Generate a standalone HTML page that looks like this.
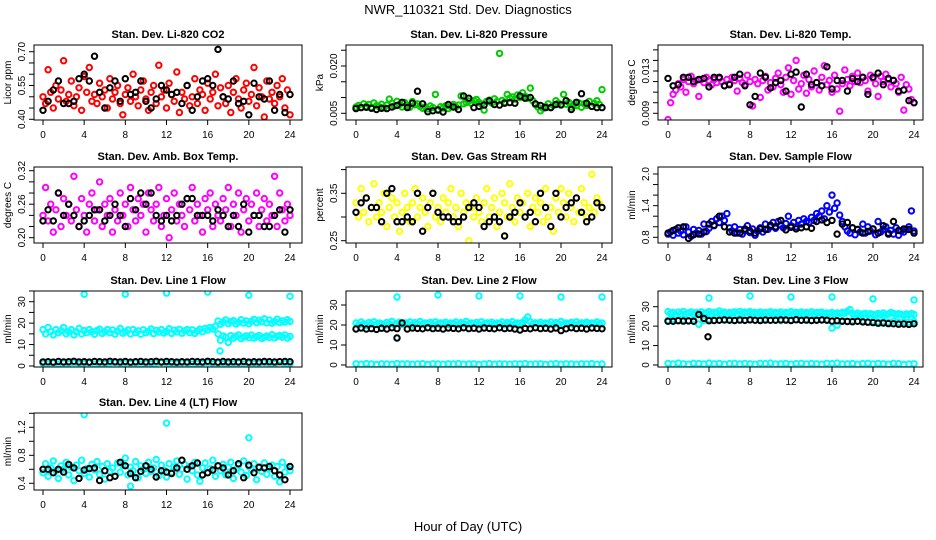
<!DOCTYPE html>
<html><head><meta charset="utf-8"><style>
html,body{margin:0;padding:0;background:#fff;}
svg{display:block;font-family:"Liberation Sans",sans-serif;}
</style></head><body>
<svg id="chart" width="936" height="540" viewBox="0 0 936 540">
<rect x="0" y="0" width="936" height="540" fill="#fff"/>
<text x="468" y="14" text-anchor="middle" font-size="13">NWR_110321  Std. Dev. Diagnostics</text>
<text x="468" y="531" text-anchor="middle" font-size="13">Hour of Day (UTC)</text>
</svg>
<script>
const xTicks = [0,4,8,12,16,20,24];

const co2Red = [0.50,0.47,0.62,0.52,0.45,0.55,0.49,0.53,0.66,0.48,0.51,0.57,0.46,0.50,0.54,0.44,0.59,0.52,0.63,0.48,0.51,0.47,0.56,0.50,0.53,0.45,0.58,0.49,0.52,0.55,0.47,0.42,0.51,0.54,0.48,0.60,0.50,0.46,0.53,0.57,0.49,0.44,0.52,0.55,0.47,0.64,0.50,0.53,0.45,0.56,0.51,0.48,0.61,0.43,0.52,0.49,0.55,0.46,0.50,0.58,0.47,0.53,0.51,0.44,0.56,0.49,0.52,0.60,0.46,0.54,0.50,0.47,0.55,0.43,0.52,0.58,0.49,0.45,0.53,0.56,0.48,0.51,0.63,0.46,0.54,0.50,0.41,0.57,0.49,0.52,0.47,0.55,0.50,0.58,0.45,0.53,0.42];
const co2Black = [0.44,0.48,0.53,0.57,0.47,0.47,0.48,0.58,0.60,0.57,0.68,0.52,0.45,0.54,0.57,0.48,0.58,0.51,0.52,0.57,0.48,0.45,0.49,0.55,0.53,0.51,0.52,0.47,0.55,0.44,0.50,0.57,0.58,0.55,0.71,0.50,0.49,0.57,0.47,0.48,0.42,0.56,0.50,0.49,0.57,0.44,0.51,0.43,0.51];
const co2Ticks = [0.40,0.45,0.50,0.55,0.60,0.65,0.70];
const co2Labels = ["0.40","0.55","0.70"];

const presGreen = [0.0070,0.0075,0.0068,0.0080,0.0072,0.0078,0.0069,0.0083,0.0074,0.0071,0.0079,0.0068,0.0076,0.0095,0.0082,0.0073,0.0088,0.0078,0.0070,0.0084,0.0075,0.0069,0.0087,0.0077,0.0080,0.0072,0.0066,0.0070,0.0064,0.0073,0.0068,0.0110,0.0062,0.0071,0.0067,0.0074,0.0065,0.0072,0.0078,0.0070,0.0076,0.0105,0.0080,0.0084,0.0089,0.0082,0.0090,0.0094,0.0085,0.0079,0.0060,0.0088,0.0092,0.0083,0.0096,0.0087,0.0240,0.0091,0.0085,0.0110,0.0098,0.0102,0.0095,0.0108,0.0100,0.0115,0.0104,0.0098,0.0130,0.0090,0.0078,0.0070,0.0058,0.0066,0.0072,0.0080,0.0068,0.0075,0.0090,0.0082,0.0076,0.0110,0.0079,0.0085,0.0070,0.0077,0.0074,0.0083,0.0069,0.0080,0.0075,0.0088,0.0072,0.0081,0.0090,0.0078,0.0125];
const presBlack = [0.0065,0.0068,0.0069,0.0066,0.0062,0.0066,0.0065,0.0070,0.0075,0.0085,0.0068,0.0082,0.0120,0.0080,0.0055,0.0058,0.0060,0.0054,0.0078,0.0070,0.0062,0.0105,0.0098,0.0068,0.0072,0.0076,0.0090,0.0078,0.0076,0.0082,0.0084,0.0082,0.0105,0.0098,0.0100,0.0080,0.0075,0.0068,0.0068,0.0078,0.0077,0.0090,0.0062,0.0085,0.0112,0.0082,0.0072,0.0068,0.0068];
const presTicks = [0.005,0.010,0.015,0.020,0.025];
const presLabels = ["0.005","0.020"];

const tempMag = [0.0084,0.0100,0.0108,0.0112,0.0118,0.0115,0.0122,0.0110,0.0120,0.0125,0.0118,0.0121,0.0106,0.0122,0.0119,0.0124,0.0121,0.0117,0.0122,0.0119,0.0123,0.0120,0.0116,0.0122,0.0118,0.0124,0.0121,0.0111,0.0123,0.0119,0.0117,0.0126,0.0120,0.0097,0.0122,0.0118,0.0105,0.0121,0.0125,0.0112,0.0119,0.0115,0.0123,0.0128,0.0117,0.0110,0.0124,0.0133,0.0108,0.0121,0.0140,0.0113,0.0118,0.0126,0.0109,0.0122,0.0115,0.0130,0.0119,0.0112,0.0124,0.0135,0.0117,0.0121,0.0110,0.0126,0.0113,0.0092,0.0118,0.0131,0.0122,0.0116,0.0125,0.0120,0.0128,0.0119,0.0124,0.0121,0.0111,0.0126,0.0123,0.0118,0.0106,0.0125,0.0120,0.0127,0.0122,0.0115,0.0121,0.0118,0.0110,0.0124,0.0093,0.0117,0.0113,0.0103,0.0100];
const tempBlack = [0.0123,0.0116,0.0117,0.0124,0.0124,0.0120,0.0122,0.0123,0.0115,0.0124,0.0124,0.0116,0.0117,0.0124,0.0127,0.0116,0.0098,0.0106,0.0128,0.0124,0.0114,0.0119,0.0121,0.0111,0.0127,0.0129,0.0096,0.0127,0.0117,0.0119,0.0116,0.0134,0.0113,0.0121,0.0121,0.0111,0.0123,0.0120,0.0124,0.0108,0.0124,0.0128,0.0117,0.0123,0.0121,0.0111,0.0112,0.0102,0.0100];
const tempTicks = [0.009,0.010,0.011,0.012,0.013,0.014,0.015];
const tempLabels = ["0.009","0.013"];

const boxMag = [0.24,0.29,0.23,0.26,0.21,0.25,0.28,0.22,0.27,0.24,0.26,0.23,0.31,0.25,0.22,0.27,0.24,0.21,0.26,0.28,0.23,0.25,0.30,0.22,0.26,0.24,0.27,0.21,0.25,0.23,0.28,0.24,0.26,0.22,0.29,0.25,0.23,0.27,0.24,0.26,0.21,0.28,0.25,0.23,0.26,0.29,0.22,0.24,0.27,0.20,0.25,0.28,0.23,0.26,0.24,0.22,0.27,0.25,0.29,0.23,0.26,0.24,0.21,0.27,0.25,0.28,0.22,0.26,0.24,0.23,0.27,0.25,0.29,0.22,0.26,0.24,0.28,0.21,0.25,0.27,0.23,0.26,0.24,0.28,0.22,0.25,0.27,0.23,0.26,0.24,0.31,0.22,0.28,0.25,0.23,0.26,0.24];
const boxBlack = [0.23,0.25,0.23,0.28,0.24,0.26,0.24,0.22,0.23,0.24,0.25,0.25,0.23,0.24,0.26,0.24,0.22,0.27,0.25,0.28,0.26,0.28,0.24,0.23,0.24,0.23,0.24,0.26,0.27,0.27,0.24,0.24,0.24,0.23,0.25,0.24,0.22,0.24,0.22,0.26,0.21,0.24,0.24,0.22,0.22,0.24,0.25,0.21,0.25];
const boxTicks = [0.20,0.22,0.24,0.26,0.28,0.30,0.32];
const boxLabels = ["0.20","0.26","0.32"];

const rhYellow = [0.33,0.30,0.36,0.31,0.34,0.29,0.32,0.37,0.30,0.33,0.31,0.35,0.28,0.32,0.34,0.30,0.33,0.27,0.31,0.35,0.32,0.29,0.33,0.36,0.30,0.32,0.34,0.31,0.28,0.33,0.35,0.30,0.32,0.29,0.34,0.31,0.33,0.36,0.30,0.32,0.28,0.35,0.31,0.33,0.25,0.32,0.30,0.34,0.31,0.29,0.33,0.36,0.30,0.32,0.34,0.28,0.31,0.35,0.33,0.30,0.37,0.32,0.29,0.34,0.31,0.33,0.30,0.35,0.28,0.32,0.34,0.31,0.33,0.29,0.36,0.30,0.32,0.27,0.34,0.31,0.36,0.33,0.30,0.35,0.32,0.29,0.34,0.31,0.36,0.33,0.30,0.32,0.39,0.31,0.34,0.33,0.32];
const rhBlack = [0.31,0.33,0.34,0.32,0.32,0.29,0.35,0.36,0.29,0.29,0.30,0.29,0.35,0.27,0.32,0.35,0.31,0.30,0.30,0.29,0.29,0.30,0.32,0.33,0.32,0.28,0.29,0.30,0.29,0.26,0.30,0.31,0.33,0.30,0.31,0.29,0.35,0.32,0.28,0.35,0.30,0.32,0.33,0.34,0.31,0.29,0.30,0.33,0.32];
const rhTicks = [0.25,0.30,0.35,0.40];
const rhLabels = ["0.25","0.35"];

const flowBlue = [0.86,0.90,0.84,0.95,0.88,0.92,0.85,1.00,0.90,0.82,0.95,0.88,0.93,0.86,1.05,0.91,0.97,1.10,1.02,1.15,1.08,1.20,1.12,1.25,0.98,0.92,1.00,0.88,0.95,0.86,0.92,1.02,0.89,0.96,0.84,0.92,0.98,0.90,1.05,0.95,1.00,1.08,0.97,1.10,1.03,0.98,1.06,1.20,1.02,1.08,1.00,1.12,1.05,1.15,1.10,1.08,1.18,1.12,1.25,1.20,1.30,1.15,1.40,1.28,1.60,1.35,1.45,1.22,1.10,1.00,0.92,0.88,0.98,0.85,0.95,0.90,1.05,0.88,1.00,0.92,0.96,0.85,1.10,0.90,0.95,1.00,0.88,0.93,0.86,0.98,0.84,0.92,0.90,0.95,1.00,1.30,0.92];
const flowBlack = [0.88,0.93,0.98,1.00,0.78,0.85,0.86,0.90,1.05,1.03,1.20,1.00,0.90,0.88,0.88,0.96,0.92,0.88,0.96,0.95,1.03,1.00,1.12,0.94,0.99,0.96,0.98,1.00,0.97,1.10,1.13,1.08,1.12,0.86,1.05,1.08,0.98,0.95,0.88,0.91,0.96,0.88,1.02,0.86,1.10,0.93,0.96,0.95,0.88];
const flowTicks = [0.8,1.0,1.2,1.4,1.6,1.8,2.0];
const flowLabels = ["0.8","1.4","2.0"];

const l1Cyan = [17,15,18,16,14.5,17,15.5,16.5,18,15,16,17,14.5,16,17.5,15,16.5,15.5,17,16,14.8,16.5,17.2,15.2,16,17,15.5,16.8,14.9,16.2,17.5,15.3,16,16.8,15,17,15.6,16.4,14.8,16.9,15.5,16.2,17.3,15.1,16.6,15.8,17,15.4,16.1,17.4,15.2,16.7,15.9,17.1,15.3,16.4,17,15.6,16.9,15.2,16.3,17.2,16,17.5,16.8,18,17.2,18.5,21,19.5,20.5,21.5,19.8,20.8,21.2,19.6,20.4,21.6,20,21,19.7,20.9,21.8,20.2,21.3,20.6,22,20.1,21.4,19.9,20.7,21.9,20.3,21.1,20.5,21.6,20.8];
const l1CyanLate = Array(68).fill(null).concat([15,12,14,13.5,11,14.2,13,13.8,14.5,12.8,13.6,14.1,13.2,14.4,13,13.7,14.3,12.9,13.5,14,13.3,14.6,13.1,13.9,14.2,13.4,14.5,13,13.8]);
const l1CyanLow = [1.2,1.0,1.4,0.9,1.3,1.1,1.5,1.0,1.2,1.4,0.9,1.3,1.1,1.2,1.5,1.0,1.3,1.1,1.4,0.9,1.2,1.0,1.3,1.5,1.1,1.2,1.0,1.4,1.3,0.9,1.1,1.2,1.5,1.0,1.3,1.1,1.2,0.9,1.4,1.0,1.3,1.1,1.2,1.5,0.9,1.1,0.4,1.2,1.0];
const l1Black = [1.9,2.0,1.8,2.1,1.9,2.0,2.2,1.9,2.0,1.8,2.1,2.0,1.9,2.2,2.0,1.9,2.1,1.8,2.0,2.1,1.9,2.0,2.2,1.9,2.1,2.0,1.8,2.0,1.9,2.1,2.0,1.9,2.2,2.0,1.8,2.1,1.9,2.0,1.9,2.1,1.8,2.0,1.9,2.1,2.0,1.9,2.0,2.1,2.0];
const l1OutHours = [4,8,12,16,17.2,20,24];
const l1OutVals = [33.5,33.5,34,34.5,7,33,32.5];
const lineTicks = [0,5,10,15,20,25,30,35];
const lineLabels = ["0","10","20","30"];

const l2Cyan = [21,20,21.5,20.5,19.8,21.2,20.4,21.6,20.2,21,20.6,19.9,21.3,20.5,21.8,20.1,20.9,21.4,20.3,21.1,20.7,21.5,20,21.2,20.6,21.7,20.4,21,20.8,21.3,20.2,21.6,20.5,21.1,20.9,21.4,20.3,21,20.7,21.5,20.1,21.2,20.6,21.8,20.4,21,20.8,21.3,20.2,21.6,20.5,21.1,20.9,21.4,20.3,21,20.7,21.5,20.1,21.2,20.6,21.7,20.4,21,20.8,21.3,22.5,24,21.6,20.5,21.1,20.9,21.4,20.3,21,20.7,21.5,20.1,21.2,20.6,21.8,20.4,21,20.8,21.3,20.2,21.6,20.5,21.1,20.9,21.4,20.3,21,20.7,21.5,20.4,21];
const l2CyanLow = [0.6,0.4,0.7,0.5,0.3,0.6,0.5,0.4,0.7,0.5,0.6,0.4,0.5,0.7,0.3,0.6,0.5,0.4,0.6,0.5,0.7,0.4,0.5,0.6,0.3,0.5,0.7,0.4,0.6,0.5,0.4,0.6,0.5,0.7,0.4,0.5,0.6,0.3,0.5,0.7,0.4,0.6,0.5,0.4,0.6,0.5,0.7,0.4,0.5];
const l2Black = [18,18.5,18,18.2,17.8,18.4,18,18.6,18.2,21,18,18.5,18.3,18.1,18.6,18.2,18.4,18,18.5,18.3,18.1,18.6,18.2,18.4,18,18.5,18.3,18.1,18.6,18.2,18.4,18,17.5,18.3,18.1,18.6,18.2,18.4,18,18.5,17.2,18.1,18.6,18.2,18.4,18,18.5,18.3,18.1];
const l2OutHours = [4,4,8,12,16,20,24];
const l2OutVals = [13.5,34,35,34.5,34.5,34,34];
const l2OutBlackHours = [4];
const l2OutBlackVals = [13.5];
const line2Ticks = [0,10,20,30];
const line2Labels = ["0","10","20","30"];

const l3Cyan = [27.5,26.5,27,26,27.2,26.4,27.6,26.2,26.8,27.3,26.1,27,26.6,27.4,26.3,26.9,27.5,26.2,27.1,26.7,27.8,26.5,27.2,26.3,27,26.8,27.4,26.4,27.6,26.6,27.2,26.9,27.5,26.5,27.1,26.7,27.3,26.4,27,26.8,27.4,26.5,27.1,26.6,27.3,26.2,27,26.8,27.5,26.4,27.1,26.6,27.3,26.5,27,26.7,27.4,26.3,27,26.9,27.2,26.4,26.8,26.5,27,26.2,26.8,26.5,27,26.6,27.6,28.5,26.5,26.1,26.7,25.8,26.3,26.6,25.9,26.4,26.1,25.7,26.5,26,26.8,25.9,26.3,27,26.6,25.8,26.4,26.1,25.6,26.3,25.9,26.5,26];
const l3CyanMid = [23,23.5,23,23.2,22.8,23.3,21,22.9,23.4,23,23.2,23.1,23.5,23,23.3,22.9,23.4,23.1,23.2,23.6,23,23.3,22.9,23.4,23.1,23.2,23,23.5,22.9,23.3,23.1,23.4,19,20.5,22.8,22.6,22.9,22.5,22.7,22.3,22.6,22.2,22.4,22.1,22.5,22,22.3,22.1,22.4];
const l3CyanLow = [0.8,0.5,1.0,0.6,0.4,0.9,0.7,0.5,1.0,0.6,0.8,0.4,0.7,0.9,0.5,0.8,0.6,0.4,0.9,0.7,1.0,0.5,0.6,0.8,0.4,0.7,0.9,0.5,0.8,0.6,0.4,0.9,0.7,1.0,0.5,0.6,0.8,0.4,0.7,0.9,0.5,0.8,0.6,0.4,0.9,0.7,0.3,0.5,0.6];
const l3Black = [22.5,22.5,22.8,22.6,22.7,22.5,26,24,22.8,22.9,23,23.2,23,22.9,23.1,23,23.2,23,22.9,23.1,23,23,23.2,23.1,22.9,23.3,23,23.1,22.9,23,23.2,23,22.6,22.8,22.5,22.4,22.3,22.5,22.2,22,21.8,21.5,21.6,21.3,21.2,21,21.1,20.9,21.2];
const l3OutHours = [4,8,12,16,20,24];
const l3OutVals = [34.5,35.5,35,35,34,33.5];
const l3OutBlackHours = [3.9];
const l3OutBlackVals = [14.5];

const l4Cyan = [0.55,0.68,0.50,0.62,0.72,0.58,0.47,0.65,0.60,0.70,0.52,0.63,0.44,0.66,0.58,0.73,0.54,0.61,0.49,0.67,0.59,0.71,0.53,0.64,0.46,0.68,0.57,0.62,0.50,0.69,0.56,0.66,0.76,0.52,0.63,0.58,0.71,0.48,0.65,0.60,0.54,0.70,0.57,0.62,0.74,0.51,0.66,0.59,0.49,0.68,0.56,0.63,0.72,0.53,0.60,0.67,0.46,0.64,0.58,0.70,0.52,0.43,0.62,0.69,0.55,0.61,0.73,0.50,0.65,0.58,0.67,0.52,0.63,0.70,0.47,0.60,0.66,0.56,0.72,0.51,0.64,0.59,0.68,0.45,0.62,0.57,0.69,0.53,0.61,0.66,0.50,0.64,0.42,0.70,0.56,0.63,0.58];
const l4Black = [0.60,0.60,0.55,0.60,0.56,0.67,0.62,0.47,0.59,0.61,0.62,0.44,0.58,0.48,0.50,0.70,0.65,0.54,0.48,0.57,0.65,0.60,0.49,0.58,0.56,0.54,0.62,0.73,0.60,0.65,0.69,0.52,0.55,0.59,0.65,0.62,0.52,0.58,0.68,0.48,0.66,0.55,0.63,0.62,0.64,0.58,0.52,0.45,0.64];
const l4OutHours = [4,12,20,8.5];
const l4OutVals = [1.38,1.26,1.05,0.36];
const l4Ticks = [0.4,0.6,0.8,1.0,1.2,1.4];
const l4Labels = ["0.4","0.8","1.2"];

const RED="#ff0000", GREEN="#00cd00", MAG="#ff00ff", YEL="#ffff00", BLUE="#0000ff", CYAN="#00ffff", BLK="#000000";

const cols = [
  {left:34, right:302, x0:43, x24:290},
  {left:346, right:612, x0:356, x24:602},
  {left:658, right:923, x0:668, x24:914}
];
const rows = [{top:45,bottom:120},{top:167,bottom:243},{top:291,bottom:367},{top:413,bottom:490}];

const panels = [
  {id:"co2", title:"Stan. Dev. Li-820 CO2", ylab:"Licor ppm", c:0, r:0, v0:0.40, p0:119.3, v1:0.70, p1:51.7, ticks:co2Ticks, labels:co2Labels,
   series:[{vals:co2Red,color:RED,name:"co2-red"},{vals:co2Black,color:BLK,name:"co2-black"}]},
  {id:"pressure", title:"Stan. Dev. Li-820 Pressure", ylab:"kPa", c:1, r:0, v0:0.005, p0:113.3, v1:0.020, p1:66, ticks:presTicks, labels:presLabels,
   series:[{vals:presGreen,color:GREEN,name:"pressure-green"},{vals:presBlack,color:BLK,name:"pressure-black"}]},
  {id:"temp", title:"Stan. Dev. Li-820 Temp.", ylab:"degrees C", c:2, r:0, v0:0.009, p0:113.3, v1:0.013, p1:71, ticks:tempTicks, labels:tempLabels,
   series:[{vals:tempMag,color:MAG,name:"temp-magenta"},{vals:tempBlack,color:BLK,name:"temp-black"}]},
  {id:"boxtemp", title:"Stan. Dev. Amb. Box Temp.", ylab:"degrees C", c:0, r:1, v0:0.20, p0:237.7, v1:0.32, p1:170.7, ticks:boxTicks, labels:boxLabels,
   series:[{vals:boxMag,color:MAG,name:"boxtemp-magenta"},{vals:boxBlack,color:BLK,name:"boxtemp-black"}]},
  {id:"rh", title:"Stan. Dev. Gas Stream RH", ylab:"percent", c:1, r:1, v0:0.25, p0:240.7, v1:0.35, p1:193.3, ticks:rhTicks, labels:rhLabels,
   series:[{vals:rhYellow,color:YEL,name:"rh-yellow"},{vals:rhBlack,color:BLK,name:"rh-black"}]},
  {id:"sampleflow", title:"Stan. Dev. Sample Flow", ylab:"ml/min", c:2, r:1, v0:0.8, p0:237.3, v1:2.0, p1:174, ticks:flowTicks, labels:flowLabels,
   series:[{vals:flowBlue,color:BLUE,name:"sampleflow-blue"},{vals:flowBlack,color:BLK,name:"sampleflow-black"}]},
  {id:"line1", title:"Stan. Dev. Line 1 Flow", ylab:"ml/min", c:0, r:2, v0:0, p0:366, v1:30, p1:301.7, ticks:lineTicks, labels:lineLabels,
   series:[{vals:l1Cyan,color:CYAN,name:"line1-cyan"},{vals:l1CyanLate,color:CYAN,name:"line1-cyan-late"},{vals:l1CyanLow,color:CYAN,name:"line1-cyan-low"},{vals:l1Black,color:BLK,name:"line1-black"},{hours:l1OutHours,vals:l1OutVals,color:CYAN,name:"line1-outlier"}]},
  {id:"line2", title:"Stan. Dev. Line 2 Flow", ylab:"ml/min", c:1, r:2, v0:0, p0:365, v1:30, p1:305, ticks:line2Ticks, labels:line2Labels,
   series:[{vals:l2Cyan,color:CYAN,name:"line2-cyan"},{vals:l2CyanLow,color:CYAN,name:"line2-cyan-low"},{hours:l2OutHours,vals:l2OutVals,color:CYAN,name:"line2-outlier"},{vals:l2Black,color:BLK,name:"line2-black"},{hours:l2OutBlackHours,vals:l2OutBlackVals,color:BLK,name:"line2-black-outlier"}]},
  {id:"line3", title:"Stan. Dev. Line 3 Flow", ylab:"ml/min", c:2, r:2, v0:0, p0:365, v1:30, p1:306.7, ticks:line2Ticks, labels:line2Labels,
   series:[{vals:l3Cyan,color:CYAN,name:"line3-cyan"},{vals:l3CyanMid,color:CYAN,name:"line3-cyan-mid"},{vals:l3CyanLow,color:CYAN,name:"line3-cyan-low"},{hours:l3OutHours,vals:l3OutVals,color:CYAN,name:"line3-outlier"},{vals:l3Black,color:BLK,name:"line3-black"},{hours:l3OutBlackHours,vals:l3OutBlackVals,color:BLK,name:"line3-black-outlier"}]},
  {id:"line4", title:"Stan. Dev. Line 4 (LT) Flow", ylab:"ml/min", c:0, r:3, v0:0.4, p0:483.3, v1:1.2, p1:427.3, ticks:l4Ticks, labels:l4Labels,
   series:[{vals:l4Cyan,color:CYAN,name:"line4-cyan"},{hours:l4OutHours,vals:l4OutVals,color:CYAN,name:"line4-outlier"},{vals:l4Black,color:BLK,name:"line4-black"}]}
];

const NS="http://www.w3.org/2000/svg";
const svg=document.getElementById('chart');
function mk(tag,attrs,parent){const e=document.createElementNS(NS,tag);for(const k in attrs)e.setAttribute(k,attrs[k]);(parent||svg).appendChild(e);return e;}

panels.forEach(p=>{
  const col=cols[p.c], row=rows[p.r];
  const xs=h=>col.x0+(col.x24-col.x0)*h/24;
  const ys=v=>p.p0+(p.p1-p.p0)*(v-p.v0)/(p.v1-p.v0);
  const g=mk('g',{});
  
  
  const clip=mk('clipPath',{id:'clip-'+p.id},g);
  mk('rect',{x:col.left,y:row.top,width:col.right-col.left,height:row.bottom-row.top},clip);
  const t=mk('text',{x:(col.left+col.right)/2,y:row.top-7,'text-anchor':'middle','font-size':'11','font-weight':'bold'},g);
  t.textContent=p.title;
  
  
  const yl=mk('text',{x:0,y:0,'text-anchor':'middle','font-size':'10',transform:`translate(${col.left-23},${(row.top+row.bottom)/2}) rotate(-90)`},g);
  yl.textContent=p.ylab;
  
  
  const pg=mk('g',{'clip-path':'url(#clip-'+p.id+')'},g);
  
  
  p.series.forEach(s=>{
    const sg=mk('g',{fill:'none',stroke:s.color,'stroke-width':'2'},pg);
    
    
    const n=s.vals.length;
    s.vals.forEach((v,i)=>{
      if(v===null)return;
      const h=s.hours?s.hours[i]:i*24/(n-1);
      const c=mk('circle',{cx:xs(h).toFixed(1),cy:ys(v).toFixed(1),r:'2.7'},sg);
      
      
    });
  });
  const bx=mk('rect',{x:col.left,y:row.top,width:col.right-col.left,height:row.bottom-row.top,fill:'none',stroke:'#000','stroke-width':'1'},g);
  
  
  const xa=mk('g',{},g);
  
  
  mk('line',{x1:xs(xTicks[0]),x2:xs(xTicks[xTicks.length-1]),y1:row.bottom,y2:row.bottom,stroke:'#000'},xa);
  xTicks.forEach(h=>{
    mk('line',{x1:xs(h),x2:xs(h),y1:row.bottom,y2:row.bottom+5,stroke:'#000'},xa);
    const tl=mk('text',{x:xs(h),y:row.bottom+18,'text-anchor':'middle','font-size':'10'},xa);
    tl.textContent=String(h);
    
    
  });
  const ya=mk('g',{},g);
  
  
  const tk=p.ticks;
  mk('line',{x1:col.left,x2:col.left,y1:ys(tk[0]),y2:ys(tk[tk.length-1]),stroke:'#000'},ya);
  tk.forEach(v=>{
    mk('line',{x1:col.left-5,x2:col.left,y1:ys(v),y2:ys(v),stroke:'#000'},ya);
  });
  p.labels.forEach(lab=>{
    const v=parseFloat(lab);
    const tl=mk('text',{x:0,y:0,'text-anchor':'middle','font-size':'10',transform:`translate(${col.left-9},${ys(v).toFixed(1)}) rotate(-90)`},ya);
    tl.textContent=lab;
    
    
  });
});
</script>
</body></html>
